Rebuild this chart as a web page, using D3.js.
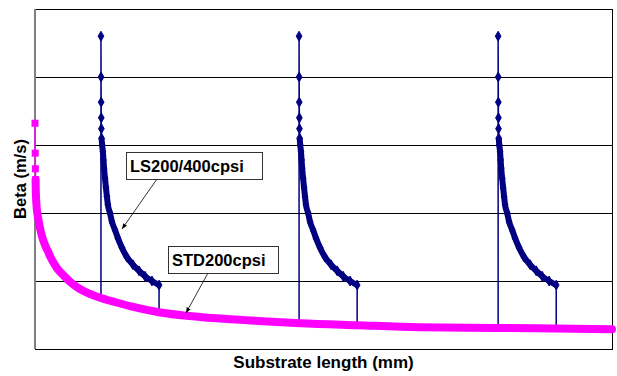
<!DOCTYPE html>
<html>
<head>
<meta charset="utf-8">
<script src="https://cdn.jsdelivr.net/npm/d3@7"></script>
<style>
  body { margin: 0; background: #fff; }
  text { font-family: Arial, "Liberation Sans", sans-serif; font-weight: bold; }
</style>
</head>
<body>
<div id="chart"></div>
<script>
// Beta along the substrate: standard 200cpsi vs. segmented LS200/400cpsi

// STD200cpsi curve (x in mm, beta in m/s)
const stdX = [0, 0.1, 0.2, 0.3, 0.4, 0.6, 1.0, 1.6, 2.6, 3.6, 5.2, 6.8, 8.8, 11.4, 14.6,
  18.2, 22.4, 27.6, 34.3, 41.6, 49.4, 64.5, 85.8, 111.8, 137.8, 167.4, 200.2, 240.7, 270.4, 300];
const stdY = [3.32, 2.88, 2.65, 2.49, 2.34, 2.19, 2.04, 1.93, 1.78, 1.66, 1.53, 1.43, 1.31, 1.19, 1.09,
  0.99, 0.90, 0.82, 0.75, 0.69, 0.63, 0.54, 0.47, 0.42, 0.38, 0.35, 0.32, 0.31, 0.30, 0.29];

// LS200/400cpsi: the same profile repeats in each 400cpsi section
const lsStart = [34.3, 137.3, 240.8];
const lsBaseStart = [0.75, 0.38, 0.31];
const lsBaseEnd = [0.54, 0.35, 0.30];
const lsDx = [0, 0.05, 0.1, 0.15, 0.2, 0.3, 0.6, 1.0, 1.3, 1.6, 2.1, 2.6, 3.1, 3.6, 4.7,
  5.7, 7.3, 8.8, 10.9, 13.5, 16.6, 19.8, 22.9, 26.5, 30.2];
const lsY = [4.60, 4.00, 3.63, 3.40, 3.24, 3.10, 3.00, 2.90, 2.78, 2.66, 2.51, 2.37, 2.24, 2.12, 2.00,
  1.87, 1.75, 1.63, 1.49, 1.35, 1.24, 1.15, 1.07, 1.00, 0.94];

const yGrid = [1, 2, 3, 4];

const W = 617, H = 376;
const margin = { top: 9, right: 5, bottom: 27, left: 35 };
const width = W - margin.left - margin.right;
const height = H - margin.top - margin.bottom;

const svg = d3.select('#chart').append('svg')
  .attr('width', W)
  .attr('height', H);

const g = svg.append('g')
  .attr('transform', `translate(${margin.left},${margin.top})`);

const x = d3.scaleLinear().domain([0, 300]).range([0, width]);
const y = d3.scaleLinear().domain([0, 5]).range([height, 0]);

// gridlines
g.append('g')
  .call(d3.axisLeft(y).tickValues(yGrid).tickSize(-width).tickFormat(''))
  .call(s => s.select('.domain').remove())
  .selectAll('line')
  .attr('stroke', '#000')
  .attr('stroke-width', 1)
  .attr('shape-rendering', 'crispEdges');

// frame
g.append('rect')
  .attr('width', width)
  .attr('height', height)
  .attr('fill', 'none')
  .attr('stroke', '#000')
  .attr('shape-rendering', 'crispEdges');
g.append('line')
  .attr('x1', 0).attr('x2', 0).attr('y1', 0).attr('y2', height)
  .attr('stroke', '#808080').attr('stroke-width', 2);

const line = d3.line().x(d => x(d[0])).y(d => y(d[1]));
const smooth = d3.line().x(d => x(d[0])).y(d => y(d[1])).curve(d3.curveMonotoneX);
const blue = '#000080';
const pink = '#ff00ff';

// LS series points
const lsPts = [];
const lsDense = [];
lsStart.forEach((s, i) => {
  lsPts.push([s, lsBaseStart[i]]);
  const seg = lsDx.map((dx, j) => [s + dx, lsY[j]]);
  seg.forEach(p => lsPts.push(p));
  lsPts.push([s + lsDx[lsDx.length - 1], lsBaseEnd[i]]);
  lsDense.push(seg.slice(5));
});

g.append('path')
  .attr('d', line(lsPts))
  .attr('fill', 'none')
  .attr('stroke', blue)
  .attr('stroke-width', 1.5);

lsDense.forEach(seg => {
  g.append('path')
    .attr('d', smooth(seg))
    .attr('fill', 'none')
    .attr('stroke', blue)
    .attr('stroke-width', 6)
    .attr('stroke-linejoin', 'round');
});

const diamond = d3.symbol().type(d3.symbolDiamond).size(28);
lsStart.forEach(s => {
  g.selectAll(null)
    .data(lsDx.map((dx, j) => [s + dx, lsY[j]]))
    .enter()
    .append('path')
    .attr('d', diamond)
    .attr('transform', d => `translate(${x(d[0])},${y(d[1])})`)
    .attr('fill', blue)
    .attr('stroke', blue);
});

// STD series
const stdPts = stdX.map((v, i) => [v, stdY[i]]);
g.append('path')
  .attr('d', smooth(stdPts.slice(3)))
  .attr('fill', 'none')
  .attr('stroke', pink)
  .attr('stroke-width', 8)
  .attr('stroke-linejoin', 'round')
  .attr('stroke-linecap', 'round');
g.append('path')
  .attr('d', line(stdPts.slice(0, 4)))
  .attr('fill', 'none')
  .attr('stroke', pink)
  .attr('stroke-width', 1.6);
g.selectAll('.sq')
  .data(stdPts.slice(0, 4))
  .enter()
  .append('rect')
  .attr('class', 'sq')
  .attr('x', d => x(d[0]) - 3.5)
  .attr('y', d => y(d[1]) - 3.5)
  .attr('width', 7)
  .attr('height', 7)
  .attr('fill', pink);

// annotations
svg.append('defs').append('marker')
  .attr('id', 'arr')
  .attr('viewBox', '0 0 10 10')
  .attr('refX', 10).attr('refY', 5)
  .attr('markerWidth', 7).attr('markerHeight', 7)
  .attr('orient', 'auto')
  .append('path')
  .attr('d', 'M0,1L10,5L0,9z')
  .attr('fill', '#000');

function callout(label, bx, by, bw, bh, from, to) {
  svg.append('line')
    .attr('x1', from[0]).attr('y1', from[1])
    .attr('x2', to[0]).attr('y2', to[1])
    .attr('stroke', '#000')
    .attr('stroke-width', 0.8)
    .attr('marker-end', 'url(#arr)');
  svg.append('rect')
    .attr('x', bx).attr('y', by)
    .attr('width', bw).attr('height', bh)
    .attr('fill', '#fff')
    .attr('stroke', '#333')
    .attr('shape-rendering', 'crispEdges');
  svg.append('text')
    .attr('x', bx + 4)
    .attr('y', by + bh / 2 + 6)
    .attr('font-size', 16.5)
    .text(label);
}

callout('LS200/400cpsi', 126, 152, 136, 27, [157, 179], [122, 229]);
callout('STD200cpsi', 168, 246, 110, 27, [208, 273], [186, 313]);

// axis titles
svg.append('text')
  .attr('x', margin.left + width / 2)
  .attr('y', 368)
  .attr('text-anchor', 'middle')
  .attr('font-size', 17)
  .text('Substrate length (mm)');

svg.append('text')
  .attr('transform', `translate(26,${margin.top + height / 2}) rotate(-90)`)
  .attr('text-anchor', 'middle')
  .attr('font-size', 16.5)
  .text('Beta (m/s)');
</script>
</body>
</html>
